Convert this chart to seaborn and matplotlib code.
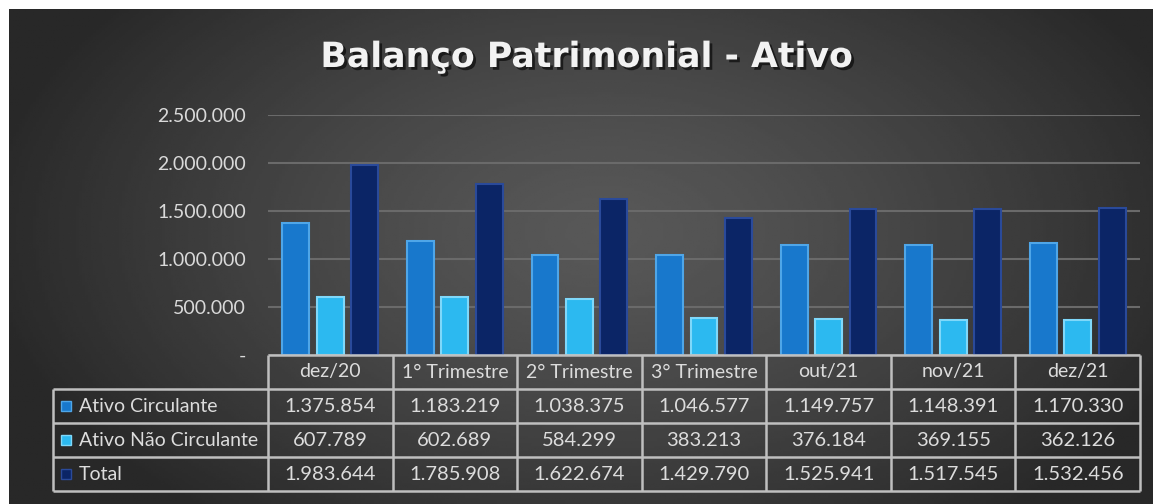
import numpy as np
import pandas as pd
import seaborn as sns
import matplotlib.pyplot as plt
import matplotlib.patheffects as pe

# Data
periodos = ["dez/20", "1° Trimestre", "2° Trimestre", "3° Trimestre", "out/21", "nov/21", "dez/21"]
series = ["Ativo Circulante", "Ativo Não Circulante", "Total"]
ativo_circulante = [1375854, 1183219, 1038375, 1046577, 1149757, 1148391, 1170330]
ativo_nao_circulante = [607789, 602689, 584299, 383213, 376184, 369155, 362126]
total = [1983644, 1785908, 1622674, 1429790, 1525941, 1517545, 1532456]
cores = ["#1878CC", "#2CB9F0", "#0B2566"]
bordas = ["#4FA6E8", "#7FD8FA", "#2A4A9A"]

valores = [ativo_circulante, ativo_nao_circulante, total]
df = pd.DataFrame({
    "periodo": periodos * 3,
    "serie": [s for s in series for _ in periodos],
    "valor": ativo_circulante + ativo_nao_circulante + total,
})


def fmt(v):
    return "-" if v == 0 else f"{int(v):,}".replace(",", ".")


sns.set_theme(style="dark")
plt.rcParams["font.family"] = ["Lato", "DejaVu Sans"]

W, H = 1153, 504
fig = plt.figure(figsize=(W / 100, H / 100), dpi=100, facecolor="white")

# dark gradient background
bg = fig.add_axes([9 / W, 0, (W - 9) / W, (H - 9) / H], zorder=-10)
yy, xx = np.mgrid[0:1:200j, 0:1:400j]
r = np.sqrt(((xx - 0.52) / 0.55) ** 2 + ((yy - 0.45) / 0.75) ** 2)
shade = 0x58 - (0x58 - 0x28) * np.clip(r, 0, 1) ** 1.3
bg.imshow(shade, cmap="gray", vmin=0, vmax=255, aspect="auto", extent=[0, 1, 0, 1])
bg.set_axis_off()

# bars
ax = fig.add_axes([268 / W, (H - 355) / H, 872 / W, 240 / H])
ax.set_facecolor("none")
sns.barplot(data=df, x="periodo", y="valor", hue="serie", order=periodos,
            hue_order=series, palette=cores, saturation=1, width=0.83, gap=0.22,
            errorbar=None, legend=False, ax=ax, zorder=3)
for i, cont in enumerate(ax.containers):
    for p in cont:
        p.set_edgecolor(bordas[i])
        p.set_linewidth(1.5)

ax.set_xlim(-0.5, 6.5)
ax.set_ylim(0, 2500000)
ax.set_yticks(np.arange(0, 2500001, 500000))
ax.set_yticklabels([fmt(v) for v in ax.get_yticks()])
ax.tick_params(axis="y", length=0, pad=16, labelsize=14, labelcolor="#d9d9d9")
ax.set_xticks([])
ax.set_xlabel("")
ax.set_ylabel("")
ax.grid(axis="y", color="#6a6a6a", linewidth=1.5, zorder=0)
for s in ax.spines.values():
    s.set_visible(False)

# data table
lab_w = 215 / (872 / 7)
xmin = -0.5 - lab_w
tb = fig.add_axes([53 / W, (H - 491) / H, 1087 / W, 136 / H])
tb.set_xlim(xmin, 6.5)
tb.set_ylim(4, 0)
tb.set_axis_off()
lc = "#bfbfbf"
tb.hlines(0, -0.5, 6.5, color=lc, lw=1.8, clip_on=False)
tb.hlines([1, 2, 3, 4], xmin, 6.5, color=lc, lw=1.8, clip_on=False)
tb.vlines([-0.5 + k for k in range(8)], 0, 4, color=lc, lw=1.8, clip_on=False)
tb.vlines(xmin, 1, 4, color=lc, lw=1.8, clip_on=False)

txt = "#dcdcdc"
for j, p in enumerate(periodos):
    tb.text(j, 0.5, p, ha="center", va="center", fontsize=14, color=txt)
for i, (s, vals) in enumerate(zip(series, valores)):
    tb.plot(xmin + 0.105, i + 1.5, marker="s", ms=7, color=cores[i],
            mec=bordas[i], clip_on=False)
    tb.text(xmin + 0.21, i + 1.5, s, ha="left", va="center", fontsize=14, color=txt)
    for j, v in enumerate(vals):
        tb.text(j, i + 1.5, fmt(v), ha="center", va="center", fontsize=14.5, color=txt)

fig.text(587 / W, 1 - 57 / H, "Balanço Patrimonial - Ativo", ha="center", va="center",
         fontsize=25, fontweight="bold", color="#f2f2f2", family="DejaVu Sans",
         path_effects=[pe.withSimplePatchShadow(offset=(2, -2), shadow_rgbFace="black", alpha=0.6)])

fig.savefig("out.png", dpi=100, facecolor="white")
